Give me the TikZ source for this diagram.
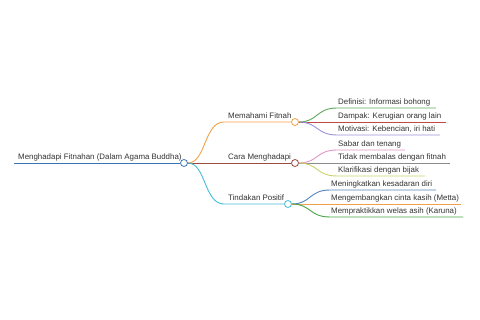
\documentclass[tikz,border=0pt]{standalone}
\usepackage{fontspec}
\setmainfont{Liberation Sans}
\usetikzlibrary{positioning,calc}
\definecolor{rootblue}{HTML}{3B74B5}
\definecolor{brorange}{HTML}{F0A24A}
\definecolor{brbrown}{HTML}{9A4A40}
\definecolor{brcyan}{HTML}{45BFD8}
\definecolor{lfgreen}{HTML}{5DAA5A}
\definecolor{lfred}{HTML}{C24848}
\definecolor{lfpurple}{HTML}{9E90DA}
\definecolor{lfpink}{HTML}{E394C6}
\definecolor{lfgray}{HTML}{8C8C8C}
\definecolor{lfyellow}{HTML}{C9D267}
\definecolor{lfblue}{HTML}{5484C2}
\definecolor{lfgreentwo}{HTML}{47A647}
\begin{document}
\begin{tikzpicture}[x=1pt, y=-1pt, every node/.style={font=\fontsize{7.9}{9}\selectfont, text=black!80},
    dot/.style={circle, draw, fill=white, inner sep=0pt, minimum size=7pt, line width=0.8pt},
    txt/.style={anchor=base west, inner sep=0pt},
    edge/.style={line width=0.9pt}]
            \useasboundingbox (0,0) rectangle (480,320);
            % Root
            \coordinate (rootstart) at (14,163);
            \node[dot, draw=rootblue] (root) at (184,163) {};
            \draw[edge, rootblue] (rootstart) -- (root.west);
            \node[txt] (roottext) at (18,159.5) {Menghadapi Fitnahan (Dalam Agama Buddha)};

            % Memahami Fitnah
            \node[dot, draw=brorange] (paham) at (295,122) {};
            \coordinate (pahamin) at (224,122);
            \draw[edge, brorange] (root.east) .. controls (206,163) and (204,122) .. (pahamin) -- (paham.west);
            \node[txt] (pahamtext) at (228,118.5) {Memahami Fitnah};
            \coordinate (defend) at (436,108);
            \coordinate (dampakend) at (446,122);
            \coordinate (motifend) at (440,135);
            \draw[edge, lfgreen] (paham.east) .. controls (318,122) and (316,108) .. (337,108) -- (defend);
            \draw[edge, lfred] (paham.east) -- (dampakend);
            \draw[edge, lfpurple] (paham.east) .. controls (318,122) and (316,135) .. (337,135) -- (motifend);
            \node[txt] at (338,105) {Definisi: Informasi bohong};
            \node[txt] at (338,118.5) {Dampak: Kerugian orang lain};
            \node[txt] at (338,131.5) {Motivasi: Kebencian, iri hati};

            % Cara Menghadapi
            \node[dot, draw=brbrown] (cara) at (295,163) {};
            \draw[edge, brbrown] (root.east) -- (cara.west);
            \node[txt] (caratext) at (228,159.5) {Cara Menghadapi};
            \coordinate (sabarend) at (405,150);
            \coordinate (balasend) at (450,163);
            \coordinate (klarend) at (425,176);
            \draw[edge, lfpink] (cara.east) .. controls (318,163) and (316,150) .. (337,150) -- (sabarend);
            \draw[edge, lfgray] (cara.east) -- (balasend);
            \draw[edge, lfyellow] (cara.east) .. controls (318,163) and (316,176) .. (337,176) -- (klarend);
            \node[txt] at (338,146.5) {Sabar dan tenang};
            \node[txt] at (338,159.5) {Tidak membalas dengan fitnah};
            \node[txt] at (338,172.5) {Klarifikasi dengan bijak};

            % Tindakan Positif
            \node[dot, draw=brcyan] (tindak) at (288,204) {};
            \coordinate (tindakin) at (224,204);
            \draw[edge, brcyan] (root.east) .. controls (206,163) and (204,204) .. (tindakin) -- (tindak.west);
            \node[txt] (tindaktext) at (228,200.5) {Tindakan Positif};
            \coordinate (sadarend) at (436,190);
            \coordinate (mettaend) at (461,204);
            \coordinate (karunaend) at (463,217);
            \draw[edge, lfblue] (tindak.east) .. controls (311,204) and (309,190) .. (330,190) -- (sadarend);
            \draw[edge, brorange] (tindak.east) -- (mettaend);
            \draw[edge, lfgreentwo] (tindak.east) .. controls (311,204) and (309,217) .. (330,217) -- (karunaend);
            \node[txt] at (331,187) {Meningkatkan kesadaran diri};
            \node[txt] at (331,200.5) {Mengembangkan cinta kasih (Metta)};
            \node[txt] at (331,213.5) {Mempraktikkan welas asih (Karuna)};
\end{tikzpicture}
\end{document}
